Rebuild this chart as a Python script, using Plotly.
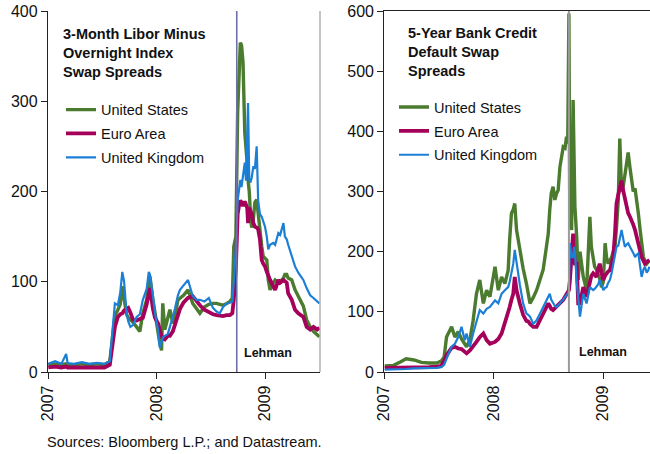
import plotly.graph_objects as go

# ---------------- data ----------------
series_names = ["United States", "Euro Area", "United Kingdom"]

# Left panel: 3-Month Libor minus OIS spreads (basis points)
L_dates = [
    "2007-01-02", "2007-01-25", "2007-02-15", "2007-03-03", "2007-03-08", "2007-03-30", "2007-04-25", "2007-05-20", "2007-06-15", "2007-07-10", "2007-07-28",
    "2007-08-07", "2007-08-14", "2007-08-24", "2007-09-01", "2007-09-08", "2007-09-14", "2007-09-22", "2007-09-28", "2007-10-05", "2007-10-14", "2007-10-26", "2007-11-06", "2007-11-16", "2007-11-29", "2007-12-06", "2007-12-10", "2007-12-20", "2007-12-27",
    "2008-01-06", "2008-01-12", "2008-01-18", "2008-01-22", "2008-01-29", "2008-02-08", "2008-02-15", "2008-02-25", "2008-03-03", "2008-03-13", "2008-03-20", "2008-04-01", "2008-04-16", "2008-05-02", "2008-05-15", "2008-05-26", "2008-06-10", "2008-06-25", "2008-07-09", "2008-07-21", "2008-08-01", "2008-08-12", "2008-08-24", "2008-09-04", "2008-09-12", "2008-09-17", "2008-09-24",
    "2008-09-30", "2008-10-05", "2008-10-09", "2008-10-13", "2008-10-18", "2008-10-24", "2008-10-28", "2008-11-01", "2008-11-04", "2008-11-08", "2008-11-12", "2008-11-16", "2008-11-22", "2008-11-27", "2008-12-03", "2008-12-08", "2008-12-14", "2008-12-20", "2008-12-25", "2008-12-31",
    "2009-01-06", "2009-01-11", "2009-01-17", "2009-01-28", "2009-02-03", "2009-02-14", "2009-02-20", "2009-03-03", "2009-03-08", "2009-03-14", "2009-03-19", "2009-03-31", "2009-04-11", "2009-04-22", "2009-05-09", "2009-05-20", "2009-06-01", "2009-06-12", "2009-06-24", "2009-07-02",
]
L_us = [
    8, 9, 8, 9, 8, 8, 9, 8, 9, 8, 12,
    43, 62, 69, 75, 95, 80, 64, 60, 58, 55, 50, 45, 65, 80, 100, 106, 80, 65,
    40, 32, 24, 76, 47, 60, 69, 54, 60, 80, 82, 85, 91, 76, 70, 65, 72, 75, 76, 76, 75, 74, 76, 78, 82, 139, 150,
    288, 330, 365, 362, 343, 265, 250, 232, 213, 200, 175, 160, 170, 188, 191, 176, 150, 139, 128, 126,
    124, 102, 91, 99, 102, 99, 100, 104, 108, 108, 104, 102, 91, 84, 73, 58, 50, 45, 41, 39,
]
L_eu = [
    5, 6, 5, 6, 5, 5, 6, 5, 6, 5, 8,
    30, 50, 61, 64, 65, 68, 70, 71, 66, 58, 57, 58, 60, 75, 88, 93, 70, 60,
    54, 45, 40, 37, 36, 40, 40, 45, 52, 61, 70, 77, 82, 84, 78, 74, 69, 66, 64, 63, 62, 62, 63, 63, 65, 80, 115,
    175, 185, 190, 188, 184, 189, 186, 182, 165, 182, 178, 176, 165, 161, 160, 158, 147, 124, 120, 117,
    111, 106, 102, 95, 91, 102, 99, 102, 100, 99, 87, 80, 69, 65, 61, 50, 47, 50, 47, 49,
]
L_uk = [
    9, 12, 9, 20, 10, 9, 11, 9, 10, 9, 12,
    45, 76, 74, 88, 111, 100, 66, 56, 50, 52, 61, 64, 80, 92, 111, 108, 84, 65,
    47, 27, 33, 38, 40, 42, 50, 61, 70, 85, 91, 96, 102, 84, 80, 80, 78, 82, 71, 67, 65, 72, 76, 77, 78, 100, 140,
    190, 200, 213, 205, 215, 232, 212, 255, 298, 213, 210, 215, 228, 225, 250, 190, 175, 172, 167, 161,
    150, 136, 141, 143, 141, 154, 152, 165, 150, 147, 141, 128, 117, 110, 102, 93, 85, 82, 78, 76,
]

# Right panel: 5-year bank CDS spreads (basis points)
R_dates = [
    "2007-01-02", "2007-02-01", "2007-02-25", "2007-03-15", "2007-04-10", "2007-05-05", "2007-05-30", "2007-06-25", "2007-07-10", "2007-07-20",
    "2007-07-28", "2007-08-08", "2007-08-14", "2007-08-25", "2007-09-05", "2007-09-16", "2007-09-27", "2007-10-03", "2007-10-14", "2007-10-25", "2007-11-05", "2007-11-16", "2007-11-28", "2007-12-09", "2007-12-20",
    "2008-01-06", "2008-01-17", "2008-01-28", "2008-02-08", "2008-02-19", "2008-02-24", "2008-03-01", "2008-03-07", "2008-03-12", "2008-03-18", "2008-03-29", "2008-04-09", "2008-04-20", "2008-04-26", "2008-05-02", "2008-05-13", "2008-05-24", "2008-06-04", "2008-06-15", "2008-06-21", "2008-07-02", "2008-07-07", "2008-07-12", "2008-07-18", "2008-07-24", "2008-07-30", "2008-08-04", "2008-08-10", "2008-08-15", "2008-08-21", "2008-08-27", "2008-09-01",
    "2008-09-05", "2008-09-09", "2008-09-12", "2008-09-18", "2008-09-23", "2008-09-26", "2008-09-29", "2008-10-05", "2008-10-10", "2008-10-16", "2008-10-27", "2008-11-07", "2008-11-18", "2008-11-23", "2008-11-29", "2008-12-04", "2008-12-10", "2008-12-15", "2008-12-21", "2008-12-27",
    "2009-01-02", "2009-01-08", "2009-01-13", "2009-01-18", "2009-01-24", "2009-01-30", "2009-02-04", "2009-02-10", "2009-02-15", "2009-02-21", "2009-02-26", "2009-03-04", "2009-03-10", "2009-03-15", "2009-03-21", "2009-03-26", "2009-04-01", "2009-04-07", "2009-04-12", "2009-04-18", "2009-04-23", "2009-04-29", "2009-05-05", "2009-05-10", "2009-05-16", "2009-05-21", "2009-05-27", "2009-06-01", "2009-06-05",
]
R_us = [
    10, 11, 17, 22, 20, 16, 15, 15, 18, 25,
    58, 69, 75, 58, 67, 55, 47, 42, 53, 86, 130, 153, 114, 136, 125,
    175, 136, 158, 147, 169, 220, 264, 270, 280, 236, 200, 172, 147, 130, 114, 124, 136, 153, 170, 191, 230, 270, 297, 308, 286, 297, 302, 341, 360, 374, 372, 391,
    380, 596, 250, 236, 452, 300, 275, 225, 153, 200, 158, 136, 258, 208, 190, 175, 170, 164, 155, 141,
    150, 214, 190, 180, 186, 191, 200, 208, 240, 286, 388, 300, 310, 330, 352, 365, 340, 320, 300, 305, 280, 264, 236, 215, 191, 185, 180, 183, 186,
]
R_eu = [
    7, 7, 8, 8, 8, 8, 8, 9, 10, 19,
    28, 36, 40, 42, 39, 38, 33, 31, 36, 42, 50, 58, 64, 53, 47,
    50, 55, 64, 80, 100, 108, 120, 130, 158, 136, 114, 95, 85, 84, 80, 75, 75, 86, 95, 103, 114, 110, 105, 103, 106, 108, 110, 114, 116, 120, 125, 130,
    133, 136, 150, 208, 230, 200, 180, 180, 114, 114, 141, 125, 147, 160, 164, 160, 158, 170, 180, 165,
    153, 160, 164, 167, 169, 180, 191, 230, 280, 295, 308, 318, 300, 286, 275, 264, 258, 252, 245, 236, 225, 208, 200, 191, 185, 180, 183, 185, 186,
]
R_uk = [
    4, 4, 5, 5, 6, 6, 6, 7, 8, 12,
    22, 36, 42, 47, 58, 75, 53, 64, 42, 64, 86, 103, 97, 105, 108,
    119, 114, 130, 136, 141, 150, 164, 180, 203, 180, 145, 114, 97, 95, 92, 80, 86, 97, 108, 114, 125, 130, 120, 114, 110, 108, 110, 114, 118, 120, 125, 128,
    130, 136, 214, 191, 191, 208, 200, 150, 119, 92, 130, 114, 141, 138, 136, 138, 141, 145, 153, 145,
    136, 140, 141, 148, 153, 165, 180, 195, 208, 210, 225, 236, 220, 208, 212, 214, 208, 203, 198, 191, 195, 197, 175, 158, 170, 175, 165, 169, 175,
]

year_ticks = ["2007-01-01", "2008-01-01", "2009-01-01"]
year_labels = ["2007", "2008", "2009"]
left_yticks = [0, 100, 200, 300, 400]
right_yticks = [0, 100, 200, 300, 400, 500, 600]
lehman_left = "2008-09-27"
lehman_right = "2008-09-09"

for arr in (L_us, L_eu, L_uk):
    assert len(arr) == len(L_dates), len(arr)
for arr in (R_us, R_eu, R_uk):
    assert len(arr) == len(R_dates), len(arr)

# ---------------- style ----------------
W, H = 650, 454
FONT = "Liberation Sans, Arial, sans-serif"
colors = {"United States": "#4B7B2E", "Euro Area": "#A5005A", "United Kingdom": "#1C7FD6"}
widths = {"United States": 3.4, "Euro Area": 3.8, "United Kingdom": 2.2}

fig = go.Figure()
for name, vals in zip(series_names, [L_us, L_eu, L_uk]):
    fig.add_trace(go.Scatter(x=L_dates, y=vals, mode="lines", name=name,
                             line=dict(color=colors[name], width=widths[name]),
                             xaxis="x", yaxis="y", legend="legend", legendgroup="L" + name))
for name, vals in zip(series_names, [R_us, R_eu, R_uk]):
    fig.add_trace(go.Scatter(x=R_dates, y=vals, mode="lines", name=name,
                             line=dict(color=colors[name], width=widths[name]),
                             xaxis="x2", yaxis="y2", legend="legend2", legendgroup="R" + name))

axis_common = dict(showline=True, linecolor="#222", linewidth=1.3, ticks="outside", ticklen=6,
                   tickcolor="#222", tickwidth=1.2, showgrid=False, zeroline=False, automargin=False,
                   tickfont=dict(size=16, color="#111", family=FONT))

legend_common = dict(xanchor="left", yanchor="top", bgcolor="rgba(0,0,0,0)",
                     font=dict(size=14.5, color="#111", family=FONT), itemwidth=30,
                     traceorder="grouped", tracegroupgap=2)

fig.update_layout(
    template="none",
    width=W, height=H, margin=dict(l=0, r=0, t=11, b=82, autoexpand=False),
    paper_bgcolor="white", plot_bgcolor="white",
    font=dict(family=FONT, color="#111"),
    xaxis=dict(domain=[48 / W, 320 / W], type="date", range=["2007-01-01", "2009-07-04"],
               tickvals=year_ticks, ticktext=year_labels, tickangle=-90, anchor="y", **axis_common),
    yaxis=dict(domain=[0, 1], range=[0, 400], tickvals=left_yticks, anchor="x", **axis_common),
    xaxis2=dict(domain=[384.3 / W, 1.0], type="date", range=["2007-01-01", "2009-06-07"],
                tickvals=year_ticks, ticktext=year_labels, tickangle=-90, anchor="y2",
                mirror=True, **axis_common),
    yaxis2=dict(domain=[0, 1], range=[0, 600], tickvals=right_yticks, anchor="x2", **axis_common),
    legend=dict(x=61 / W, y=0.771, **legend_common),
    legend2=dict(x=394 / W, y=0.778, **legend_common),
    shapes=[
        dict(type="line", xref="x domain", yref="y domain", x0=1, x1=1, y0=0, y1=1,
             line=dict(color="#A8A8A8", width=1.3)),
        dict(type="line", xref="x", yref="y domain", x0=lehman_left, x1=lehman_left, y0=0, y1=1,
             line=dict(color="#6E6EA8", width=1.6)),
        dict(type="line", xref="x2", yref="y2 domain", x0=lehman_right, x1=lehman_right, y0=0, y1=1,
             line=dict(color="#9A9A9A", width=2)),
    ],
    annotations=[
        dict(text="<b>3-Month Libor Minus<br>Overnight Index<br>Swap Spreads</b>", xref="paper", yref="paper",
             x=61 / W, y=0.965, xanchor="left", yanchor="top", align="left", showarrow=False,
             font=dict(size=14.5, color="#111", family=FONT)),
        dict(text="<b>5-Year Bank Credit<br>Default Swap<br>Spreads</b>", xref="paper", yref="paper",
             x=406 / W, y=0.968, xanchor="left", yanchor="top", align="left", showarrow=False,
             font=dict(size=14.5, color="#111", family=FONT)),
        dict(text="<b>Lehman</b>", xref="x", yref="y", x=lehman_left, y=21, xanchor="left", yanchor="middle",
             xshift=5, showarrow=False, font=dict(size=12.5, color="#111", family=FONT)),
        dict(text="<b>Lehman</b>", xref="x2", yref="y2", x=lehman_right, y=33, xanchor="left", yanchor="middle",
             xshift=8, showarrow=False, font=dict(size=12.5, color="#111", family=FONT)),
        dict(text="Sources: Bloomberg L.P.; and Datastream.", xref="paper", yref="paper",
             x=45 / W, y=(372 - 442) / 361, xanchor="left", yanchor="middle", showarrow=False,
             font=dict(size=14.5, color="#111", family=FONT)),
    ],
)

fig.write_html("out.html", config={"displayModeBar": False},
               post_script="document.body.style.margin='0';document.body.style.overflow='hidden';")
